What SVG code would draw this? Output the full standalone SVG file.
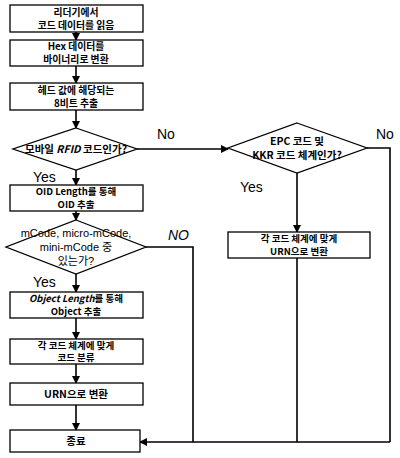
<svg xmlns="http://www.w3.org/2000/svg" width="400" height="458" viewBox="0 0 400 458">
<defs>
<marker id="ah" markerWidth="8" markerHeight="8" refX="7" refY="4" orient="auto" markerUnits="userSpaceOnUse">
<path d="M0,0 L8,4 L0,8 z" fill="#000"/>
</marker>
</defs>
<style>
.box{fill:#fff;stroke:#000;stroke-width:1.3}
.t{font-family:"Noto Sans CJK KR","Liberation Sans",sans-serif;font-size:10.5px;font-weight:bold;text-anchor:middle;fill:#000}
.m{font-size:9.8px}
.s{font-size:9.5px}
.tn{font-family:"Liberation Sans","Noto Sans CJK KR",sans-serif;font-size:11px;text-anchor:middle;fill:#000}
.lbl{font-family:"Liberation Sans",sans-serif;font-size:14px;fill:#000}
.c{fill:none;stroke:#000;stroke-width:1.6}
.ca{fill:none;stroke:#000;stroke-width:1.6;marker-end:url(#ah)}
</style>
<rect width="400" height="458" fill="#fff"/>
<g id="connectors">
<path class="ca" d="M76,32 V40"/>
<path class="ca" d="M76,66 V83"/>
<path class="ca" d="M76,110 V128"/>
<path class="ca" d="M137,149 H228"/>
<path class="ca" d="M76,170 V185"/>
<path class="ca" d="M76,211 V220"/>
<path class="c" d="M146,247 H193 V442"/>
<path class="ca" d="M76,274 V292"/>
<path class="ca" d="M76,318 V339"/>
<path class="ca" d="M76,364 V383"/>
<path class="ca" d="M76,405 V430"/>
<path class="ca" d="M297,173 V232"/>
<path class="c" d="M367,148 H390 V442"/>
<path class="c" d="M297,258 V442"/>
<path class="ca" d="M390,442 H140"/>
<text class="lbl" x="157" y="139">No</text>
<text class="lbl" x="33" y="182">Yes</text>
<text class="lbl" x="168" y="240" font-style="italic">NO</text>
<text class="lbl" x="33" y="287">Yes</text>
<text class="lbl" x="376" y="139">No</text>
<text class="lbl" x="240" y="192">Yes</text>
</g>
<g id="n1"><rect class="box" x="10" y="5" width="133" height="27"/><text class="t m" x="76" y="15.6">리더기에서</text><text class="t m" x="76" y="28.6">코드 데이터를 읽음</text></g>
<g id="n2"><rect class="box" x="10" y="40" width="133" height="26"/><text class="t m" x="76" y="50.1">Hex 데이터를</text><text class="t m" x="76" y="63.1">바이너리로 변환</text></g>
<g id="n3"><rect class="box" x="10" y="83" width="133" height="27"/><text class="t m" x="76" y="93.6">헤드 값에 해당되는</text><text class="t m" x="76" y="106.6">8비트 추출</text></g>
<g id="n4"><polygon class="box" points="76,128 137,149 76,170 13,149"/><text class="t" x="76" y="153">모바일 <tspan font-style="italic">RFID</tspan> 코드인가?</text></g>
<g id="n5"><rect class="box" x="10" y="185" width="133" height="26"/><text class="t s" x="76" y="195">OID Length를 통해</text><text class="t s" x="76" y="207.5">OID 추출</text></g>
<g id="n6"><polygon class="box" points="76,220 146,247 76,274 6,247"/><text class="tn" x="76" y="237">mCode, micro-mCode,</text><text class="tn" x="76" y="251">mini-mCode 중</text><text class="tn" x="76" y="265">있는가?</text></g>
<g id="n7"><rect class="box" x="10" y="292" width="133" height="26"/><text class="t s" x="76" y="302"><tspan font-style="italic">Object Length</tspan>를 통해</text><text class="t s" x="76" y="314.5">Object 추출</text></g>
<g id="n8"><rect class="box" x="10" y="339" width="133" height="25"/><text class="t s" x="76" y="348.6">각 코드 체계에 맞게</text><text class="t s" x="76" y="361.1">코드 분류</text></g>
<g id="n9"><rect class="box" x="10" y="383" width="133" height="22"/><text class="t" x="76" y="398">URN으로 변환</text></g>
<g id="n10"><rect class="box" x="10" y="430" width="130" height="22"/><text class="t" x="76" y="445">종료</text></g>
<g id="n11"><polygon class="box" points="297,123 367,148 297,173 228,148"/><text class="t" x="297" y="145">EPC 코드 및</text><text class="t" x="297" y="159">KKR 코드 체계인가?</text></g>
<g id="n12"><rect class="box" x="228" y="232" width="142" height="26"/><text class="t s" x="299" y="242">각 코드 체계에 맞게</text><text class="t s" x="299" y="254.5">URN으로 변환</text></g>
</svg>
